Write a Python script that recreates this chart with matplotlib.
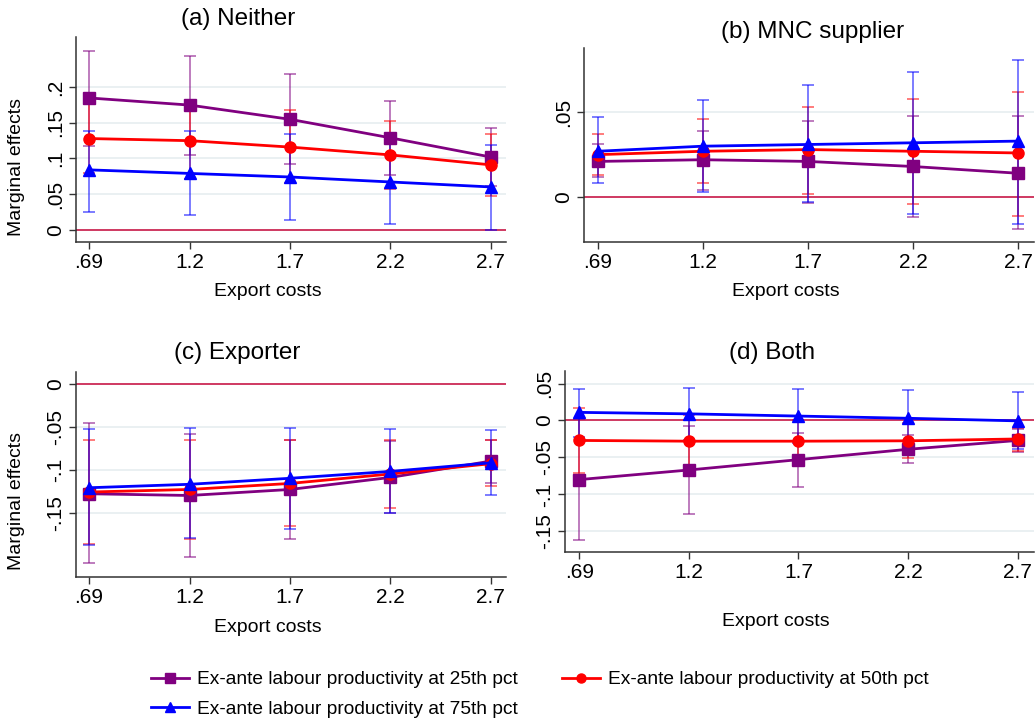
import matplotlib
matplotlib.use("Agg")
import matplotlib.pyplot as plt
from matplotlib.lines import Line2D
import numpy as np

plt.rcParams['font.family'] = ['Liberation Sans', 'DejaVu Sans']

# ---------------- data ----------------
x_vals = [0.69, 1.19, 1.69, 2.19, 2.69]
x_ticklabels = ['.69', '1.2', '1.7', '2.2', '2.7']
series_labels = ['Ex-ante labour productivity at 25th pct',
                 'Ex-ante labour productivity at 50th pct',
                 'Ex-ante labour productivity at 75th pct']
panel_titles = ['(a) Neither', '(b) MNC supplier', '(c) Exporter', '(d) Both']

# (a) Neither
a_p25 = [0.185, 0.175, 0.155, 0.129, 0.102]
a_p25_lo = [0.118, 0.105, 0.092, 0.077, 0.061]
a_p25_hi = [0.251, 0.244, 0.218, 0.181, 0.143]
a_p50 = [0.128, 0.125, 0.116, 0.105, 0.091]
a_p50_lo = [0.079, 0.071, 0.065, 0.057, 0.047]
a_p50_hi = [0.177, 0.179, 0.168, 0.153, 0.135]
a_p75 = [0.084, 0.079, 0.074, 0.067, 0.060]
a_p75_lo = [0.025, 0.020, 0.014, 0.008, 0.000]
a_p75_hi = [0.139, 0.139, 0.134, 0.126, 0.119]

# (b) MNC supplier
b_p25 = [0.021, 0.022, 0.021, 0.018, 0.014]
b_p25_lo = [0.012, 0.004, -0.0035, -0.012, -0.019]
b_p25_hi = [0.031, 0.039, 0.045, 0.048, 0.048]
b_p50 = [0.025, 0.027, 0.028, 0.027, 0.026]
b_p50_lo = [0.013, 0.008, 0.002, -0.004, -0.011]
b_p50_hi = [0.037, 0.046, 0.053, 0.058, 0.062]
b_p75 = [0.027, 0.030, 0.031, 0.032, 0.033]
b_p75_lo = [0.008, 0.003, -0.003, -0.010, -0.016]
b_p75_hi = [0.047, 0.057, 0.066, 0.074, 0.081]

# (c) Exporter
c_p25 = [-0.128, -0.130, -0.123, -0.109, -0.090]
c_p25_lo = [-0.209, -0.202, -0.181, -0.150, -0.1155]
c_p25_hi = [-0.046, -0.058, -0.065, -0.067, -0.066]
c_p50 = [-0.126, -0.123, -0.116, -0.105, -0.093]
c_p50_lo = [-0.187, -0.181, -0.165, -0.144, -0.119]
c_p50_hi = [-0.065, -0.066, -0.065, -0.066, -0.066]
c_p75 = [-0.121, -0.117, -0.110, -0.102, -0.092]
c_p75_lo = [-0.188, -0.180, -0.169, -0.150, -0.129]
c_p75_hi = [-0.053, -0.052, -0.052, -0.053, -0.054]

# (d) Both
d_p25 = [-0.080, -0.067, -0.053, -0.039, -0.027]
d_p25_lo = [-0.162, -0.127, -0.090, -0.057, -0.042]
d_p25_hi = [0.002, -0.007, -0.017, -0.020, -0.012]
d_p50 = [-0.027, -0.028, -0.028, -0.0275, -0.025]
d_p50_lo = [-0.071, -0.064, -0.057, -0.051, -0.041]
d_p50_hi = [0.017, 0.008, 0.001, -0.004, -0.010]
d_p75 = [0.011, 0.009, 0.006, 0.003, -0.0005]
d_p75_lo = [-0.022, -0.026, -0.031, -0.035, -0.039]
d_p75_hi = [0.043, 0.044, 0.043, 0.041, 0.038]

a_yticks = [0, 0.05, 0.1, 0.15, 0.2]
a_yticklabels = ['0', '.05', '.1', '.15', '.2']
b_yticks = [0, 0.05]
b_yticklabels = ['0', '.05']
c_yticks = [0, -0.05, -0.1, -0.15]
c_yticklabels = ['0', '-.05', '-.1', '-.15']
d_yticks = [0.05, 0, -0.05, -0.1, -0.15]
d_yticklabels = ['.05', '0', '-.05', '-.1', '-.15']

# ---------------- style ----------------
W, H = 1035, 726
colors = ['#800080', '#ff0000', '#0000ff']
markers = ['s', 'o', '^']
msizes = [8, 8, 8.5]
grid_color = '#e6eef0'
zero_color = '#cc2a55'

fig = plt.figure(figsize=(W / 100, H / 100), dpi=100)
fig.patch.set_facecolor('white')


def px_axes(x0, x1, y0, y1):
    return fig.add_axes([x0 / W, 1 - y1 / H, (x1 - x0) / W, (y1 - y0) / H])


panels = [
    dict(box=(76, 506, 37, 242), ylim=(-0.0173, 0.2706),
         yt=a_yticks, ytl=a_yticklabels,
         s=[(a_p25, a_p25_lo, a_p25_hi), (a_p50, a_p50_lo, a_p50_hi), (a_p75, a_p75_lo, a_p75_hi)],
         title_xy=(238, 19), xlab_xy=(268, 291), ylab_xy=(17, 167)),
    dict(box=(584, 1034, 48, 242), ylim=(-0.0266, 0.088),
         yt=b_yticks, ytl=b_yticklabels,
         s=[(b_p25, b_p25_lo, b_p25_hi), (b_p50, b_p50_lo, b_p50_hi), (b_p75, b_p75_lo, b_p75_hi)],
         title_xy=(813, 32), xlab_xy=(786, 291), ylab_xy=None),
    dict(box=(76, 506, 372, 577), ylim=(-0.2248, 0.0136),
         yt=c_yticks, ytl=c_yticklabels,
         s=[(c_p25, c_p25_lo, c_p25_hi), (c_p50, c_p50_lo, c_p50_hi), (c_p75, c_p75_lo, c_p75_hi)],
         title_xy=(237, 353), xlab_xy=(268, 628), ylab_xy=(17, 501)),
    dict(box=(565, 1034, 371, 552), ylim=(-0.178, 0.067),
         yt=d_yticks, ytl=d_yticklabels,
         s=[(d_p25, d_p25_lo, d_p25_hi), (d_p50, d_p50_lo, d_p50_hi), (d_p75, d_p75_lo, d_p75_hi)],
         title_xy=(772, 353), xlab_xy=(776, 621), ylab_xy=None),
]

for i, p in enumerate(panels):
    ax = px_axes(*p['box'])
    ax.set_xlim(0.625, 2.765)
    ax.set_ylim(*p['ylim'])
    for yv in p['yt']:
        if yv != 0:
            ax.axhline(yv, color=grid_color, lw=1.2, zorder=0)
    ax.axhline(0, color=zero_color, lw=1.3, zorder=1)
    for k, (est, lo, hi) in enumerate(p['s']):
        est = np.array(est); lo = np.array(lo); hi = np.array(hi)
        ax.errorbar(x_vals, est, yerr=[est - lo, hi - est], fmt='none',
                    ecolor=colors[k], elinewidth=1.1, capsize=4.5, capthick=1.1,
                    alpha=0.65, zorder=2 + k)
        ax.plot(x_vals, est, color=colors[k], lw=2.0, marker=markers[k],
                ms=msizes[k], zorder=5 + k)
    ax.set_xticks(x_vals)
    ax.set_xticklabels(x_ticklabels, fontsize=15)
    ax.set_yticks(p['yt'])
    ax.set_yticklabels(p['ytl'], fontsize=15, rotation=90, va='center')
    ax.tick_params(axis='both', direction='out', length=5, width=1, color='#333333', pad=3)
    for side in ['top', 'right']:
        ax.spines[side].set_visible(False)
    for side in ['left', 'bottom']:
        ax.spines[side].set_color('#333333')
        ax.spines[side].set_linewidth(1.1)
    fig.text(p['title_xy'][0] / W, 1 - p['title_xy'][1] / H, panel_titles[i],
             ha='center', va='center', fontsize=17.5)
    fig.text(p['xlab_xy'][0] / W, 1 - p['xlab_xy'][1] / H, 'Export costs',
             ha='center', va='center', fontsize=14)
    if p['ylab_xy'] is not None:
        fig.text(p['ylab_xy'][0] / W, 1 - p['ylab_xy'][1] / H, 'Marginal effects',
                 ha='center', va='center', fontsize=14, rotation=90)

handles = [Line2D([], [], color=colors[k], lw=2.0, marker=markers[k], ms=6.5)
           for k in range(3)]
order = [0, 2, 1]
fig.legend([handles[k] for k in order], [series_labels[k] for k in order],
           loc='upper left', bbox_to_anchor=(151 / W, 1 - 671 / H), ncol=2,
           frameon=False, fontsize=13.8, handlelength=2.0, handletextpad=0.4,
           columnspacing=2.3, labelspacing=0.62, borderaxespad=0, borderpad=0)

fig.savefig('out.png', dpi=100, facecolor='white')
